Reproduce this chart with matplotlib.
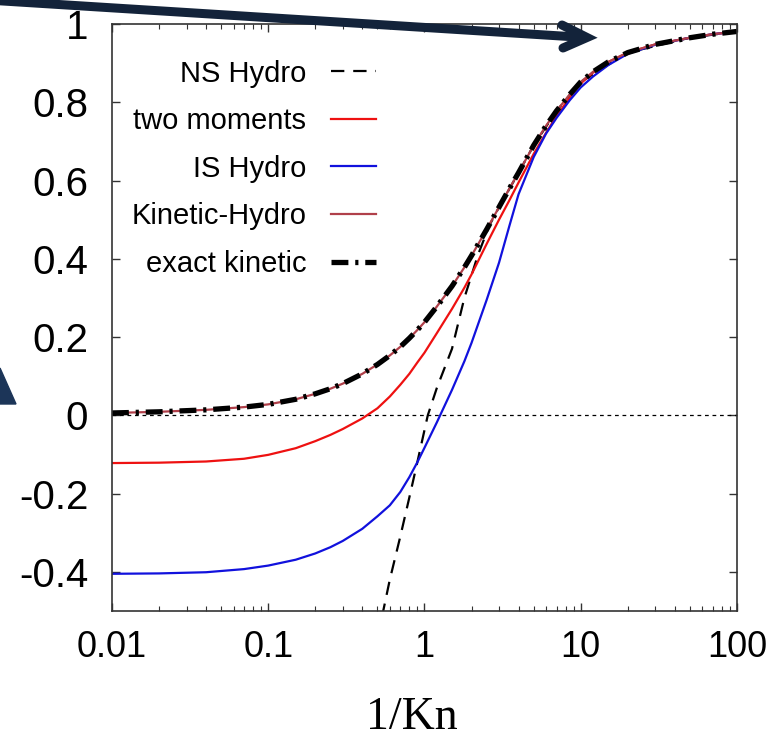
import matplotlib
matplotlib.use("Agg")
import matplotlib.pyplot as plt
from matplotlib.patches import Polygon

# valores
x = [0.01, 0.02, 0.04, 0.07, 0.1, 0.15, 0.2, 0.25, 0.3, 0.4, 0.5, 0.6, 0.7,
     0.8, 0.9, 1.0, 1.2, 1.5, 1.8, 2.0, 2.5, 3.0, 3.5, 4.0, 5.0, 6.0, 7.0,
     8.5, 10, 12, 15, 20, 30, 50, 70, 100]

exact_kinetic = [0.006, 0.009, 0.014, 0.021, 0.028, 0.041, 0.055, 0.068,
                 0.081, 0.106, 0.130, 0.153, 0.175, 0.197, 0.218, 0.238,
                 0.278, 0.33, 0.378, 0.408, 0.475, 0.532, 0.58, 0.62, 0.69,
                 0.74, 0.778, 0.82, 0.852, 0.878, 0.903, 0.927, 0.948, 0.965,
                 0.974, 0.981]

kinetic_hydro = [0.006, 0.009, 0.014, 0.021, 0.028, 0.041, 0.055, 0.068,
                 0.081, 0.106, 0.130, 0.153, 0.175, 0.197, 0.218, 0.238,
                 0.278, 0.33, 0.378, 0.408, 0.475, 0.532, 0.58, 0.62, 0.69,
                 0.74, 0.778, 0.82, 0.852, 0.878, 0.903, 0.927, 0.948, 0.965,
                 0.974, 0.981]

two_moments = [-0.122, -0.121, -0.118, -0.111, -0.101, -0.084, -0.066, -0.05,
               -0.035, -0.008, 0.018, 0.048, 0.078, 0.106, 0.135, 0.16, 0.21,
               0.272, 0.326, 0.36, 0.438, 0.50, 0.55, 0.595, 0.668, 0.722,
               0.765, 0.812, 0.848, 0.876, 0.903, 0.927, 0.948, 0.965, 0.974,
               0.981]

is_hydro = [-0.405, -0.404, -0.401, -0.393, -0.384, -0.369, -0.353, -0.337,
            -0.321, -0.29, -0.258, -0.23, -0.196, -0.158, -0.12, -0.083,
            -0.018, 0.065, 0.138, 0.185, 0.295, 0.39, 0.485, 0.565, 0.66,
            0.72, 0.76, 0.805, 0.838, 0.866, 0.895, 0.924, 0.947, 0.965,
            0.974, 0.981]

x_ns = [0.5, 0.6, 0.7, 0.8, 0.9, 1.05, 1.2, 1.5, 1.8, 2.2, 2.6, 3, 4, 5, 7,
        10, 20, 50, 100]
ns_hydro = [-0.57, -0.42, -0.31, -0.21, -0.12, 0.0, 0.07, 0.17, 0.30, 0.41,
            0.485, 0.532, 0.62, 0.69, 0.778, 0.852, 0.927, 0.965, 0.981]

xticks = [0.01, 0.1, 1, 10, 100]
xticklabels = ["0.01", "0.1", "1", "10", "100"]
yticks = [-0.4, -0.2, 0, 0.2, 0.4, 0.6, 0.8, 1]
yticklabels = ["-0.4", "-0.2", "0", "0.2", "0.4", "0.6", "0.8", "1"]

fonte = "Liberation Sans"

fig = plt.figure(figsize=(7.76, 7.44), dpi=100)
ax = fig.add_axes([0.1443, 0.1788, 0.9497 - 0.1443, 0.9677 - 0.1788])

ax.axhline(0, color="black", linewidth=0.9, dashes=(3, 3))
ax.plot(x_ns, ns_hydro, color="black", linewidth=1.6, dashes=(6, 4),
        label="NS Hydro")
ax.plot(x, two_moments, color="#ee1111", linewidth=1.6, label="two moments")
ax.plot(x, is_hydro, color="#1111dd", linewidth=1.6, label="IS Hydro")
ax.plot(x, kinetic_hydro, color="#b0404a", linewidth=1.6, label="Kinetic-Hydro")
ax.plot(x, exact_kinetic, color="black", linewidth=3.8,
        dashes=(3.2, 1.3, 0.6, 1.3), label="exact kinetic")

ax.set_xscale("log")
ax.set_xlim(0.01, 100)
ax.set_ylim(-0.5, 1)
ax.set_xticks(xticks)
ax.set_xticklabels(xticklabels, fontsize=26, family=fonte)
ax.set_yticks(yticks)
ax.set_yticklabels(yticklabels, fontsize=29, family=fonte)
ax.tick_params(which="both", direction="in", top=True, right=True,
               color="#333333")
ax.tick_params(which="major", length=6, width=1)
ax.tick_params(which="minor", length=3.5, width=0.8)
ax.tick_params(axis="x", pad=14)
ax.tick_params(axis="y", pad=17)
for s in ax.spines.values():
    s.set_color("#333333")
    s.set_linewidth(1.2)

leg = ax.legend(loc="upper right", bbox_to_anchor=(391 / 776, 1 - 45 / 744),
                bbox_transform=fig.transFigure, frameon=False,
                markerfirst=False, handlelength=1.55, handletextpad=0.85,
                labelspacing=0.67, borderpad=0,
                prop={"family": fonte, "size": 21})

fig.text(412 / 776, 1 - 718 / 744, "1/Kn", family="Liberation Serif",
         fontsize=33, ha="center", va="center")

# setas da anotacao (cortadas nas bordas)
ax_over = fig.add_axes([0, 0, 1, 1], facecolor="none")
ax_over.set_xlim(0, 776)
ax_over.set_ylim(744, 0)
ax_over.axis("off")
cor_seta = "#13233a"
ax_over.plot([-5, 585], [0.5, 37.5], color=cor_seta, linewidth=6.5,
             solid_capstyle="round")
ax_over.plot([562, 587, 563], [25, 37.5, 48], color=cor_seta, linewidth=6.5,
             solid_capstyle="round", solid_joinstyle="miter")
ax_over.add_patch(Polygon([(0, 368), (16, 404), (0, 404)], closed=True,
                          color="#1c3558"))

fig.savefig("out.png", dpi=100)
